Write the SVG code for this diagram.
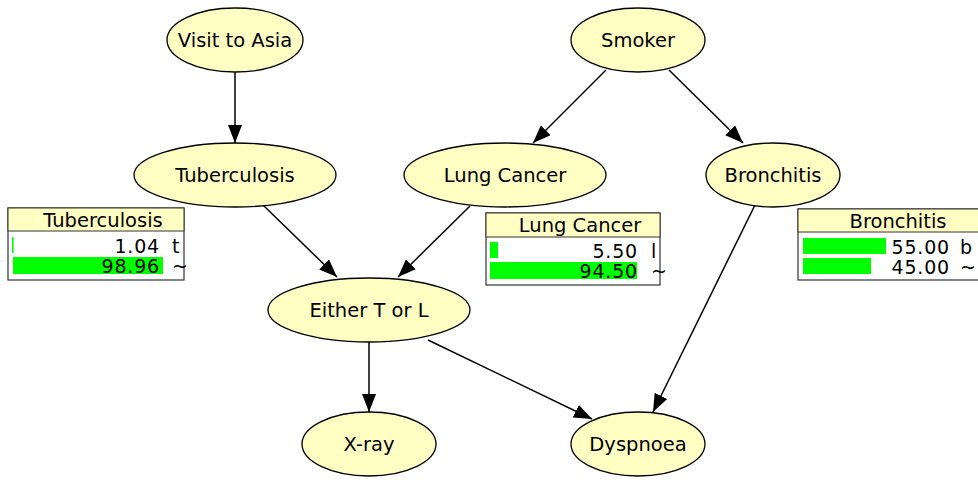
<svg xmlns="http://www.w3.org/2000/svg" width="978" height="480" viewBox="0 0 978 480">
<defs>
<marker id="ah" markerUnits="userSpaceOnUse" markerWidth="18" markerHeight="14" refX="18" refY="7" orient="auto">
<path d="M0,0 L18,7 L0,14 Z" fill="#000"/>
</marker>
<style>
.node ellipse{fill:#FFFFC4;stroke:#000;stroke-width:1.3}
.lbl{font-family:"DejaVu Sans",sans-serif;font-size:19.5px;fill:#000;text-anchor:middle}
.edge line{stroke:#000;stroke-width:1.5;marker-end:url(#ah)}
.tb{fill:#fff;stroke:#333;stroke-width:1.2}
.th{fill:#FFFFC4;stroke:#333;stroke-width:1}
.bar{fill:#00FF00}
.num{font-family:"DejaVu Sans",sans-serif;font-size:19px;fill:#000;text-anchor:end;letter-spacing:0.8px}
.st{font-family:"DejaVu Sans",sans-serif;font-size:19px;fill:#000}
</style>
</defs>
<rect width="978" height="480" fill="#fff"/>
<g id="connectors" class="edge">
<line x1="235" y1="72" x2="235" y2="143"/>
<line x1="606" y1="70" x2="533" y2="143"/>
<line x1="669" y1="70" x2="743" y2="143"/>
<line x1="263" y1="205" x2="337" y2="277"/>
<line x1="470" y1="206" x2="398" y2="277"/>
<line x1="369" y1="342" x2="369" y2="412"/>
<line x1="428" y1="340" x2="592" y2="419"/>
<line x1="755" y1="205" x2="653" y2="412"/>
</g>
<g id="visit" class="node"><ellipse cx="235" cy="40" rx="68" ry="32"/><text class="lbl" x="235" y="47">Visit to Asia</text></g>
<g id="smoker" class="node"><ellipse cx="638" cy="40" rx="67" ry="32"/><text class="lbl" x="638" y="47">Smoker</text></g>
<g id="tuberculosis" class="node"><ellipse cx="235" cy="175" rx="101" ry="32"/><text class="lbl" x="235" y="182">Tuberculosis</text></g>
<g id="lungcancer" class="node"><ellipse cx="505" cy="175" rx="101" ry="32"/><text class="lbl" x="505" y="182">Lung Cancer</text></g>
<g id="bronchitis" class="node"><ellipse cx="773" cy="175" rx="67" ry="32"/><text class="lbl" x="773" y="182">Bronchitis</text></g>
<g id="either" class="node"><ellipse cx="369" cy="310" rx="101" ry="32"/><text class="lbl" x="369" y="317">Either T or L</text></g>
<g id="xray" class="node"><ellipse cx="369" cy="444" rx="67" ry="32"/><text class="lbl" x="369" y="451">X-ray</text></g>
<g id="dyspnoea" class="node"><ellipse cx="638" cy="444" rx="67" ry="32"/><text class="lbl" x="638" y="451">Dyspnoea</text></g>
<g id="table-tuberculosis">
<rect class="tb" x="8" y="208" width="176" height="72"/>
<rect class="th" x="8" y="208" width="176" height="23"/>
<text class="lbl" x="103" y="227">Tuberculosis</text>
<rect class="bar" x="12" y="237" width="1.6" height="16"/>
<rect class="bar" x="13" y="257" width="150" height="17"/>
<text class="num" x="160" y="253">1.04</text><text class="st" x="172" y="253">t</text>
<text class="num" x="160" y="273">98.96</text><text class="st" x="172" y="273">~</text>
</g>
<g id="table-lungcancer">
<rect class="tb" x="486" y="213" width="174" height="72"/>
<rect class="th" x="486" y="213" width="174" height="24"/>
<text class="lbl" x="580" y="232">Lung Cancer</text>
<rect class="bar" x="490" y="242" width="8" height="16"/>
<rect class="bar" x="490" y="262" width="147" height="17"/>
<text class="num" x="638" y="258">5.50</text><text class="st" x="651" y="258">l</text>
<text class="num" x="638" y="278">94.50</text><text class="st" x="651" y="278">~</text>
</g>
<g id="table-bronchitis">
<rect class="tb" x="798" y="209" width="190" height="71"/>
<rect class="th" x="798" y="209" width="190" height="23"/>
<text class="lbl" x="898" y="228">Bronchitis</text>
<rect class="bar" x="803" y="238" width="83" height="16"/>
<rect class="bar" x="803" y="258" width="68" height="16"/>
<text class="num" x="950" y="254">55.00</text><text class="st" x="960" y="254">b</text>
<text class="num" x="950" y="274">45.00</text><text class="st" x="960" y="274">~</text>
</g>
</svg>
